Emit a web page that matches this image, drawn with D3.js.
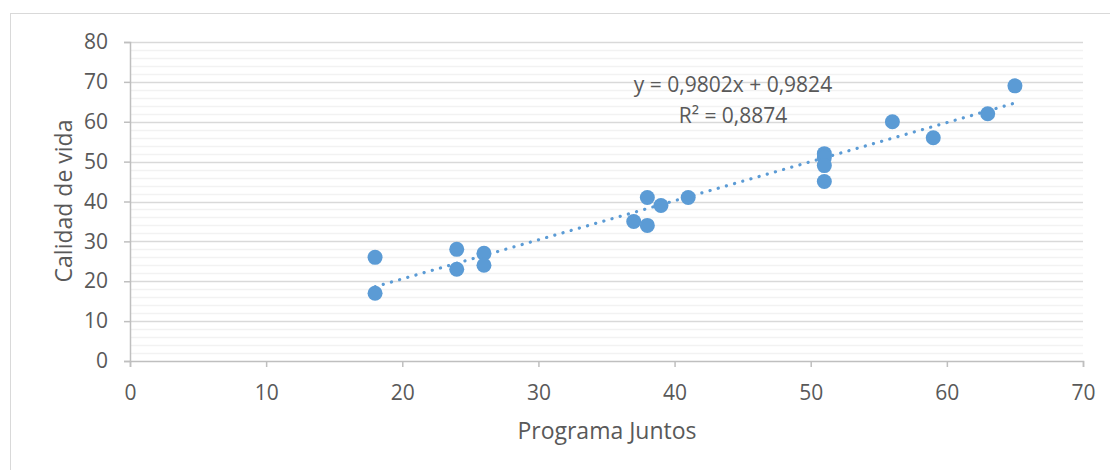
<!DOCTYPE html>
<html>
<head>
<meta charset="utf-8">
<script src="https://cdn.jsdelivr.net/npm/d3@7"></script>
<style>
  body { margin: 0; background: #fff; }
  svg { display: block; font-family: "Open Sans", sans-serif; }
</style>
</head>
<body>
<svg id="chart" width="1110" height="470"></svg>
<script>
// data
var programaJuntos = [18, 18, 24, 24, 26, 26, 37, 38, 38, 39, 41, 51, 51, 51, 51, 56, 59, 63, 65];
var calidadVida = [26, 17, 28, 23, 27, 24, 35, 41, 34, 39, 41, 52, 51, 49, 45, 60, 56, 62, 69];
var xTicks = [0, 10, 20, 30, 40, 50, 60, 70];
var yTicks = [0, 10, 20, 30, 40, 50, 60, 70, 80];
var trendCoef = [0.9802, 0.9824];   // slope, intercept
var trendLabels = ['y = 0,9802x + 0,9824', 'R\u00b2 = 0,8874'];

(function () {
    'use strict';
    var svg = d3.select('#chart');
    var left = 130, right = 1083, top = 42, bottom = 361;
    var blue = '#5B9BD5';

    svg.append('rect').attr('x', 10.5).attr('y', 13.5).attr('width', 1110).attr('height', 470)
        .attr('fill', '#fff').attr('stroke', '#d9d9d9');

    var x = d3.scaleLinear().domain([0, 70]).range([left, right]);
    var y = d3.scaleLinear().domain([0, 80]).range([bottom, top]);

    // minor grid lines every 2
    var grid = svg.append('g');
    d3.range(0, 81, 2).forEach(function (v) {
        if (v % 10 === 0) return;
        grid.append('line').attr('x1', left).attr('x2', right)
            .attr('y1', Math.round(y(v)) + 0.5).attr('y2', Math.round(y(v)) + 0.5)
            .attr('stroke', '#f2f2f2').attr('stroke-width', 1.3);
    });
    yTicks.forEach(function (v) {
        if (v === 0) return;
        grid.append('line').attr('x1', left).attr('x2', right)
            .attr('y1', Math.round(y(v)) + 0.5).attr('y2', Math.round(y(v)) + 0.5)
            .attr('stroke', '#d9d9d9').attr('stroke-width', 1.3);
    });

    // axes
    var yAxis = d3.axisLeft(y).tickValues(yTicks).tickSize(6).tickPadding(16);
    var gy = svg.append('g').attr('transform', 'translate(' + left + ',0)').call(yAxis);
    var xAxis = d3.axisBottom(x).tickValues(xTicks).tickSize(6).tickPadding(18);
    var gx = svg.append('g').attr('transform', 'translate(0,' + bottom + ')').call(xAxis);
    [gx, gy].forEach(function (g) {
        g.select('.domain').attr('stroke', '#bfbfbf').attr('stroke-width', 1.5);
        g.selectAll('.tick line').attr('stroke', '#bfbfbf').attr('stroke-width', 1.5);
        g.selectAll('.tick text').attr('fill', '#595959').style('font-size', '21px')
            .style('font-family', '"Open Sans", sans-serif');
    });

    // trend line
    var xMin = d3.min(programaJuntos), xMax = d3.max(programaJuntos);
    svg.append('line')
        .attr('x1', x(xMin)).attr('y1', y(trendCoef[0] * xMin + trendCoef[1]))
        .attr('x2', x(xMax)).attr('y2', y(trendCoef[0] * xMax + trendCoef[1]))
        .attr('stroke', blue).attr('stroke-width', 3.2)
        .attr('stroke-linecap', 'round').attr('stroke-dasharray', '0.1 8.4');

    // points
    svg.append('g').selectAll('circle').data(programaJuntos).enter().append('circle')
        .attr('cx', function (d) { return x(d); })
        .attr('cy', function (d, i) { return y(calidadVida[i]); })
        .attr('r', 7.5).attr('fill', blue);

    // equation label
    svg.append('text').attr('x', 733).attr('y', 92).attr('text-anchor', 'middle')
        .attr('fill', '#595959').style('font-size', '21px').text(trendLabels[0]);
    svg.append('text').attr('x', 733).attr('y', 123).attr('text-anchor', 'middle')
        .attr('fill', '#595959').style('font-size', '21px').text(trendLabels[1]);

    // axis titles
    svg.append('text').attr('x', 607).attr('y', 439).attr('text-anchor', 'middle')
        .attr('fill', '#595959').style('font-size', '23px').text('Programa Juntos');
    svg.append('text').attr('transform', 'translate(72,201) rotate(-90)').attr('text-anchor', 'middle')
        .attr('fill', '#595959').style('font-size', '23px').text('Calidad de vida');
})();
</script>
</body>
</html>
